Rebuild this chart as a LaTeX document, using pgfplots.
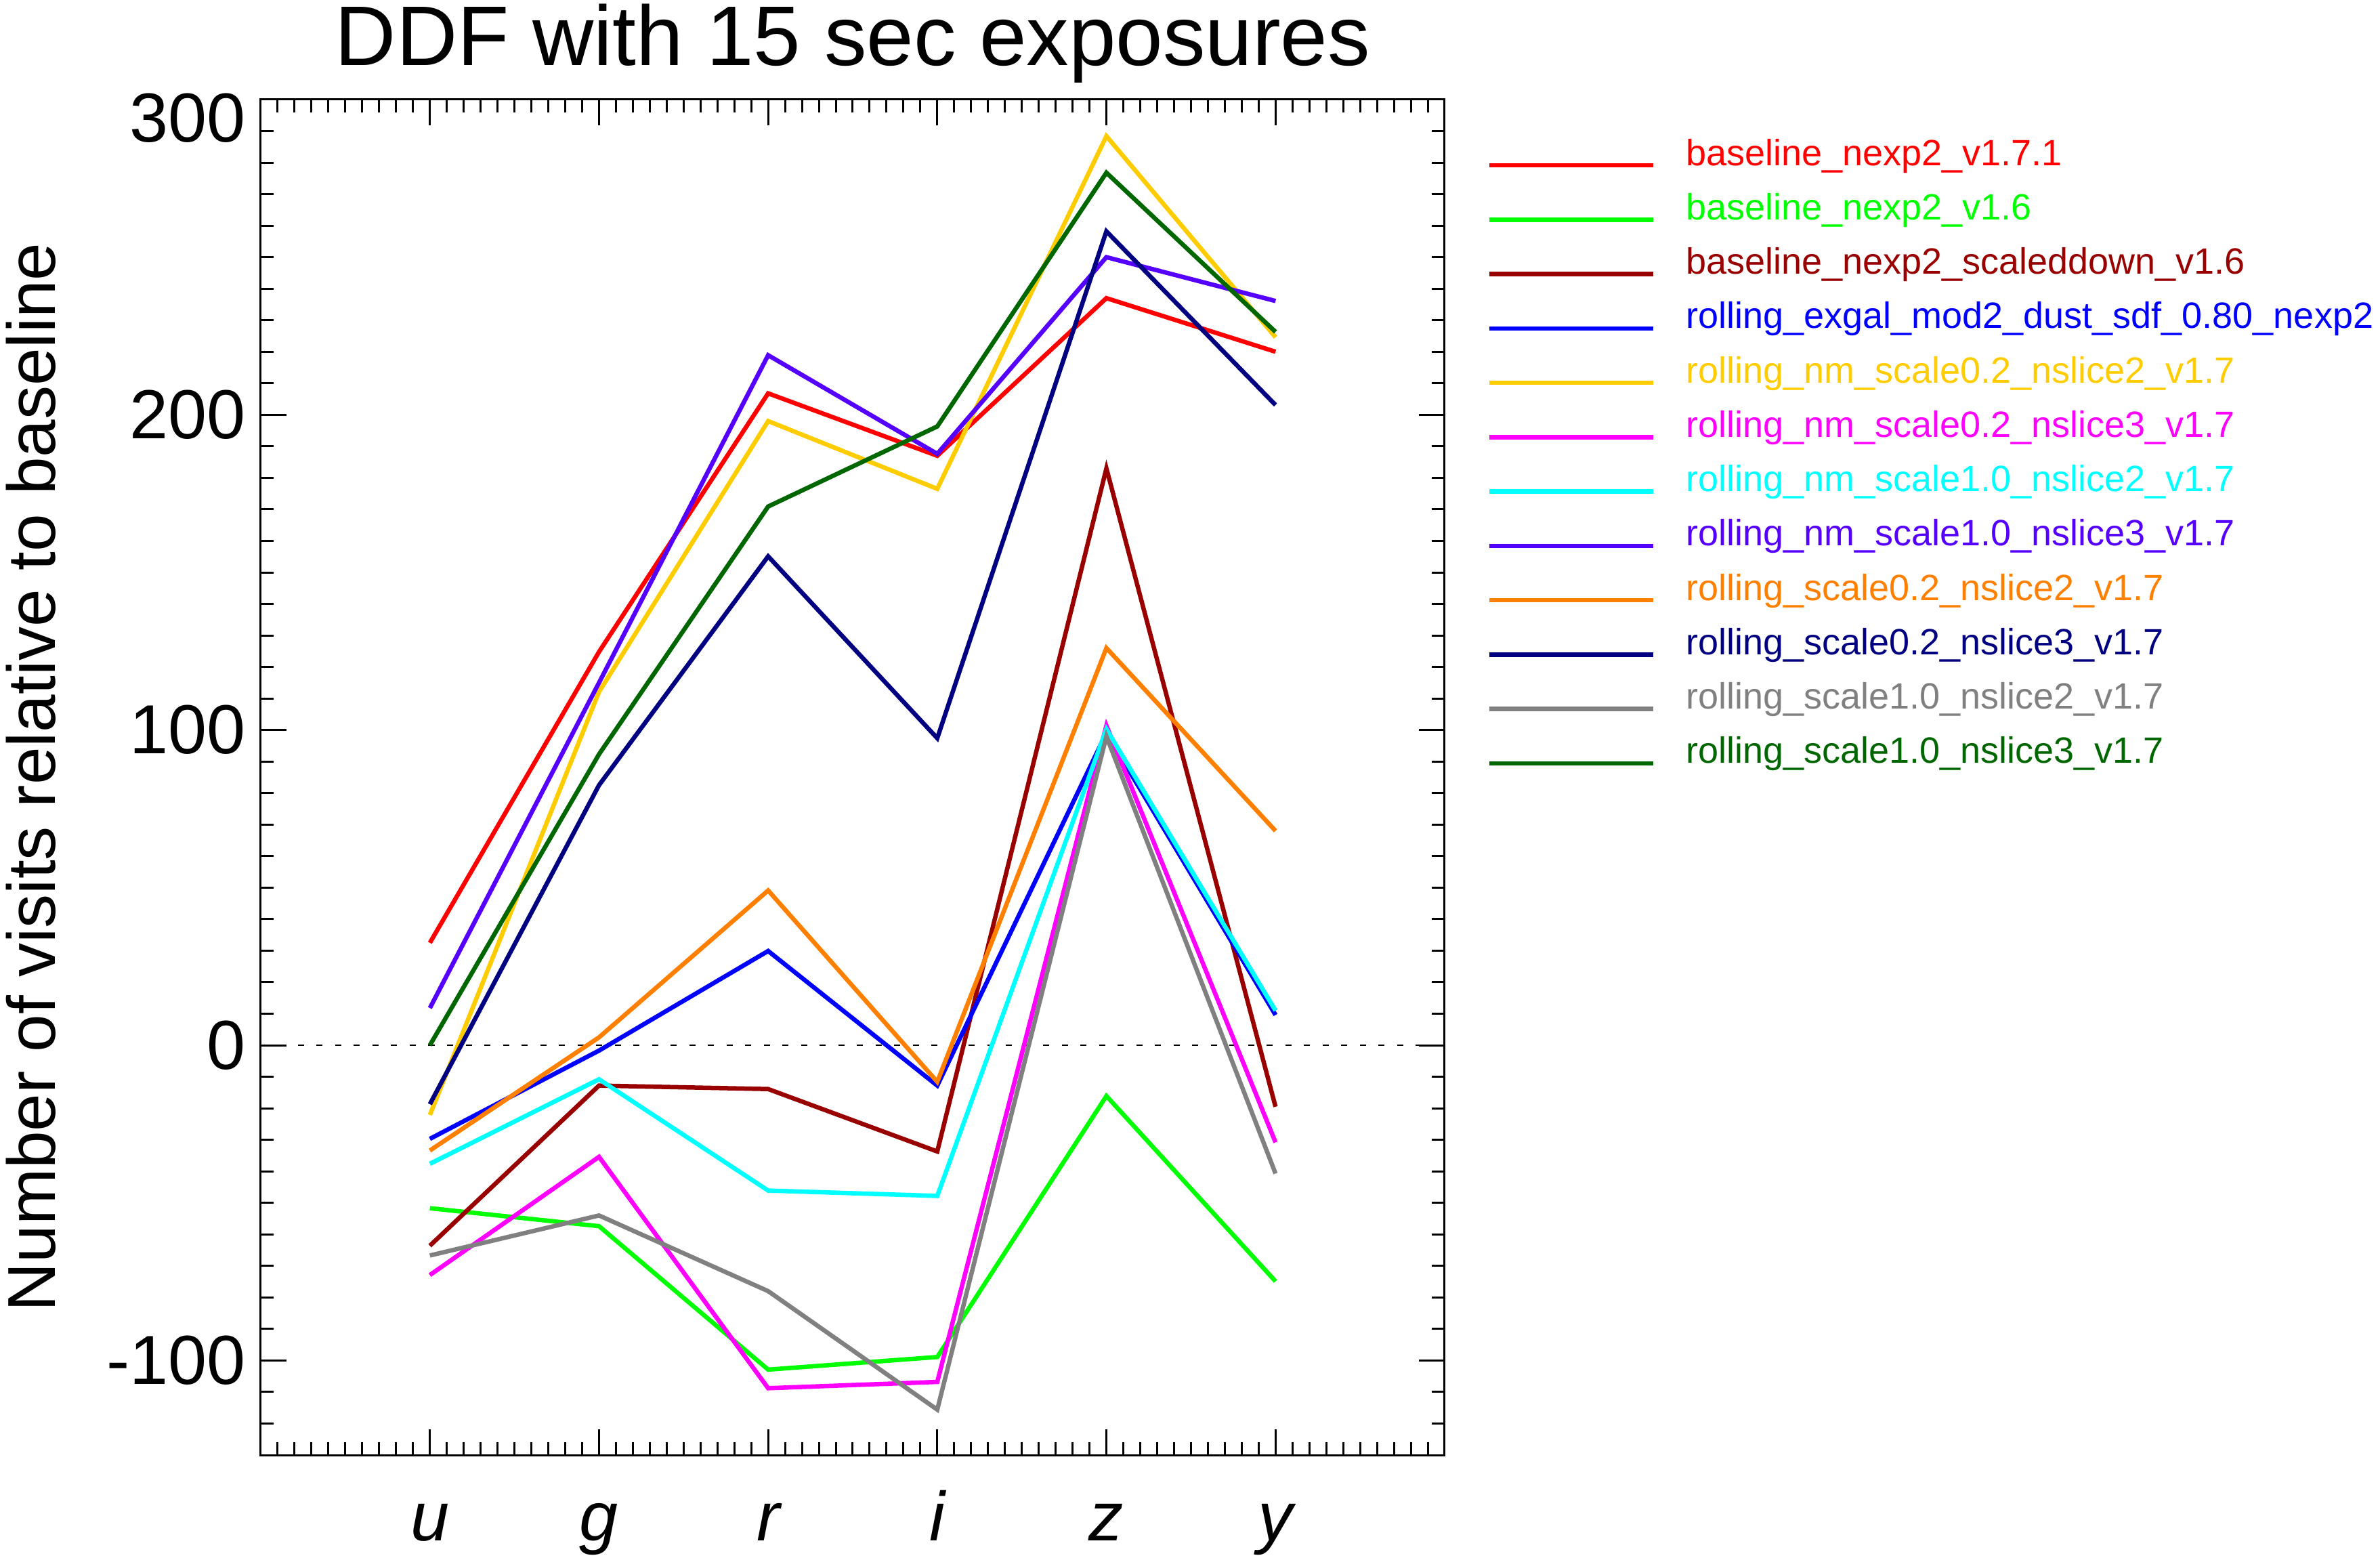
\documentclass[border=0pt]{standalone}
\usepackage{fontspec}
\setmainfont{Liberation Sans}
\usepackage{pgfplots}
\pgfplotsset{compat=1.18}
\definecolor{cRed}{HTML}{FF0000}
\definecolor{cGreen}{HTML}{00FF00}
\definecolor{cDarkRed}{HTML}{990000}
\definecolor{cBlue}{HTML}{0000FF}
\definecolor{cGold}{HTML}{FFCC00}
\definecolor{cMagenta}{HTML}{FF00FF}
\definecolor{cCyan}{HTML}{00FFFF}
\definecolor{cViolet}{HTML}{5500FF}
\definecolor{cOrange}{HTML}{FF8000}
\definecolor{cNavy}{HTML}{000080}
\definecolor{cGray}{HTML}{808080}
\definecolor{cDkGreen}{HTML}{006600}
\begin{document}
\begin{tikzpicture}
\useasboundingbox (-77pt,-30.2pt) rectangle (625.8pt,429.6pt);
\begin{axis}[
  at={(0,0)}, anchor=south west,
  width=349.6pt, height=400.2pt, scale only axis,
  xmin=-1, xmax=6, ymin=-130, ymax=300,
  xtick={0,1,2,3,4,5},
  xticklabels={u,g,r,i,z,y},
  minor xtick={-0.9,-0.8,...,5.95},
  ytick={-100,0,100,200},
  extra y ticks={300},
  extra y tick style={grid=none, yticklabel style={yshift=-5.4pt}},
  minor ytick={-130,-120,...,300},
  major tick length=7.6pt, minor tick length=3.8pt,
  tick align=inside, tick pos=both,
  axis line style={line width=0.6pt, black},
  every tick/.style={line width=0.6pt, black},
  /pgf/number format/assume math mode=true,
  yticklabel style={font=\fontsize{20.5}{24}\selectfont, xshift=-0.9pt},
  xticklabel style={font=\fontsize{20.5}{24}\selectfont\itshape, anchor=base, yshift=-25.2pt},
  title={DDF with 15 sec exposures},
  title style={font=\fontsize{25}{30}\selectfont, at={(axis description cs:0.5,1)}, anchor=base, yshift=4.1pt},
  ylabel={Number of visits relative to baseline},
  ylabel style={font=\fontsize{20}{24}\selectfont, at={(axis description cs:-0.17363,0.5)}, anchor=base},
  legend cell align=left,
  legend image code/.code={\draw[#1] (0pt,-2.75pt) -- (48.4pt,-2.75pt);},
  legend style={at={(axis description cs:1,1)}, anchor=north west, xshift=12.6pt, yshift=-11.45pt,
    draw=none, fill=none, inner sep=0pt, outer sep=0pt, row sep=5.55pt,
    font=\fontsize{10.8}{13}\selectfont,
    nodes={inner sep=0pt, text height=8pt, text depth=2.5pt},
    /tikz/every odd column/.append style={column sep=9pt}},
  every axis plot/.append style={line width=1.3pt},
]
\addplot[black, line width=0.5pt, dash pattern=on 1.8pt off 3.7pt, forget plot] coordinates {(-1,0) (6,0)};
\addplot[cRed] coordinates {(0,32.5) (1,124.8) (2,206.8) (3,187.0) (4,237.0) (5,220.0)};
\addlegendentry{\textcolor{cRed}{baseline\_nexp2\_v1.7.1}}
\addplot[cGreen] coordinates {(0,-51.7) (1,-57.4) (2,-102.9) (3,-98.9) (4,-16.1) (5,-74.9)};
\addlegendentry{\textcolor{cGreen}{baseline\_nexp2\_v1.6}}
\addplot[cDarkRed] coordinates {(0,-63.6) (1,-12.8) (2,-13.9) (3,-33.7) (4,183.0) (5,-19.5)};
\addlegendentry{\textcolor{cDarkRed}{baseline\_nexp2\_scaleddown\_v1.6}}
\addplot[cBlue] coordinates {(0,-29.7) (1,-1.7) (2,29.9) (3,-12.8) (4,99.1) (5,9.6)};
\addlegendentry{\textcolor{cBlue}{rolling\_exgal\_mod2\_dust\_sdf\_0.80\_nexp2}}
\addplot[cGold] coordinates {(0,-22.1) (1,112.1) (2,198.0) (3,176.5) (4,288.4) (5,224.6)};
\addlegendentry{\textcolor{cGold}{rolling\_nm\_scale0.2\_nslice2\_v1.7}}
\addplot[cMagenta] coordinates {(0,-72.9) (1,-35.4) (2,-108.8) (3,-106.8) (4,101.4) (5,-30.8)};
\addlegendentry{\textcolor{cMagenta}{rolling\_nm\_scale0.2\_nslice3\_v1.7}}
\addplot[cCyan] coordinates {(0,-37.6) (1,-10.8) (2,-46.1) (3,-47.8) (4,100.3) (5,11.0)};
\addlegendentry{\textcolor{cCyan}{rolling\_nm\_scale1.0\_nslice2\_v1.7}}
\addplot[cViolet] coordinates {(0,11.8) (1,115.0) (2,218.9) (3,187.6) (4,250.0) (5,236.1)};
\addlegendentry{\textcolor{cViolet}{rolling\_nm\_scale1.0\_nslice3\_v1.7}}
\addplot[cOrange] coordinates {(0,-33.4) (1,2.5) (2,49.1) (3,-11.6) (4,126.0) (5,68.0)};
\addlegendentry{\textcolor{cOrange}{rolling\_scale0.2\_nslice2\_v1.7}}
\addplot[cNavy] coordinates {(0,-18.7) (1,82.5) (2,155.1) (3,97.4) (4,258.2) (5,203.1)};
\addlegendentry{\textcolor{cNavy}{rolling\_scale0.2\_nslice3\_v1.7}}
\addplot[cGray] coordinates {(0,-66.7) (1,-54.0) (2,-78.0) (3,-115.6) (4,98.0) (5,-40.7)};
\addlegendentry{\textcolor{cGray}{rolling\_scale1.0\_nslice2\_v1.7}}
\addplot[cDkGreen] coordinates {(0,0.0) (1,92.3) (2,170.9) (3,196.3) (4,276.8) (5,226.3)};
\addlegendentry{\textcolor{cDkGreen}{rolling\_scale1.0\_nslice3\_v1.7}}
\end{axis}
\end{tikzpicture}
\end{document}
